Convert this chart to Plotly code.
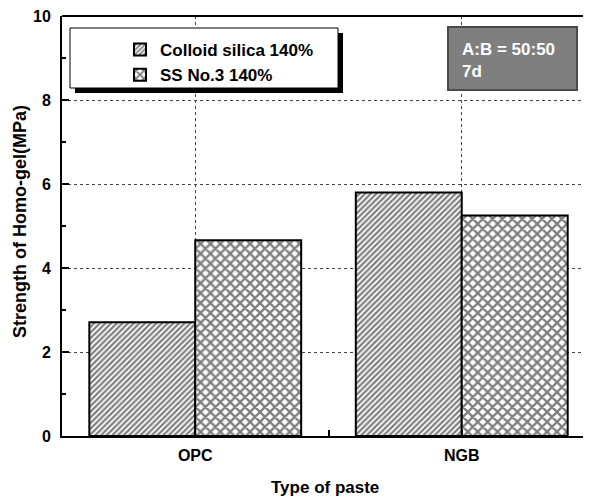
import plotly.graph_objects as go

categories = ["OPC", "NGB"]
colloid_silica = [2.71, 5.80]
ss_no3 = [4.66, 5.25]
series_names = ["Colloid silica 140%", "SS No.3 140%"]
x_pos = [0, 1]

FONT = "Liberation Sans, Arial, sans-serif"

fig = go.Figure()
fig.add_trace(go.Bar(
    x=x_pos, y=colloid_silica, name=series_names[0],
    marker=dict(color="white", line=dict(color="black", width=2),
                pattern=dict(shape="/", fgcolor="black", bgcolor="white", size=4, solidity=0.55)),
))
fig.add_trace(go.Bar(
    x=x_pos, y=ss_no3, name=series_names[1],
    marker=dict(color="white", line=dict(color="black", width=2),
                pattern=dict(shape="x", fgcolor="black", bgcolor="white", size=7, solidity=0.55)),
))

# page body has an 8px margin; compensate so the plot lands where the reference has it
OFF = 8
W, H = 591 - OFF, 501 - OFF
L, T, B, R = 62 - OFF, 16 - OFF, 65, 0
PL, PR, PT, PB = 62, 591, 16, 436  # plot area in reference pixels


def px(x):
    return (x - PL) / (PR - PL)


def py(y):
    return (PB - y) / (PB - PT)


shapes = [
    # legend shadow
    dict(type="rect", xref="paper", yref="paper", x0=px(75), x1=px(343), y0=py(93), y1=py(33),
         fillcolor="black", line=dict(width=0), layer="above"),
    # legend box
    dict(type="rect", xref="paper", yref="paper", x0=px(70), x1=px(338), y0=py(88), y1=py(28),
         fillcolor="white", line=dict(color="black", width=1), layer="above"),
    # gray info box
    dict(type="rect", xref="paper", yref="paper", x0=px(448), x1=px(577), y0=py(90), y1=py(27),
         fillcolor="#7f7f7f", line=dict(color="#4a4a4a", width=2), layer="above"),
    # top border
    dict(type="line", xref="paper", yref="paper", x0=0, x1=1, y0=1, y1=1,
         line=dict(color="black", width=2), layer="above"),
]

fig.update_layout(
    width=W, height=H,
    margin=dict(l=L, r=R, t=T, b=B),
    paper_bgcolor="white", plot_bgcolor="white",
    barmode="group", bargap=0.205, bargroupgap=0,
    font=dict(family=FONT, color="black"),
    shapes=shapes,
    showlegend=True,
    legend=dict(x=px(120), y=py(32), xanchor="left", yanchor="top",
                bgcolor="rgba(0,0,0,0)", borderwidth=0,
                font=dict(family=FONT, size=17, color="black", weight="bold"),
                tracegroupgap=0),
    annotations=[
        dict(xref="paper", yref="paper", x=px(460), y=py(38), xanchor="left", yanchor="top",
             text="A:B = 50:50<br>7d", showarrow=False, align="left",
             font=dict(family=FONT, size=17, color="white", weight="bold")),
        dict(xref="paper", yref="paper", x=px(325), y=py(487), xanchor="center", yanchor="middle",
             text="Type of paste", showarrow=False,
             font=dict(family=FONT, size=17, color="black", weight="bold")),
        dict(xref="paper", yref="paper", x=px(20), y=py(222), xanchor="center", yanchor="middle",
             text="Strength of Homo-gel(MPa)", showarrow=False, textangle=-90,
             font=dict(family=FONT, size=18, color="black", weight="bold")),
    ],
)

fig.update_xaxes(
    automargin=False,
    range=[-0.5, 1.5 - 4 / 267],
    tickmode="array", tickvals=x_pos, ticktext=categories,
    ticks="inside", ticklen=6, tickwidth=1.5, tickcolor="black",
    tickfont=dict(family=FONT, size=16, weight="bold"),
    ticklabelstandoff=4,
    showline=True, linecolor="black", linewidth=2, mirror=False,
    showgrid=True, gridcolor="#444444", griddash="dot", gridwidth=1,
    minor=dict(tickmode="array", tickvals=[0.5], ticks="inside", ticklen=6, tickwidth=1.5, tickcolor="black"),
    zeroline=False,
)
fig.update_yaxes(
    automargin=False,
    range=[0, 10], tickmode="linear", tick0=0, dtick=2,
    ticks="inside", ticklen=7, tickwidth=1.5, tickcolor="black",
    tickfont=dict(family=FONT, size=16, weight="bold"),
    ticklabelstandoff=6, ticklabeloverflow="allow",
    showline=True, linecolor="black", linewidth=2,
    showgrid=True, gridcolor="#444444", griddash="dot", gridwidth=1,
    minor=dict(dtick=1, ticks="inside", ticklen=4, tickwidth=1.5, tickcolor="black", showgrid=False),
    zeroline=False,
)

fig.write_html("out.html")
